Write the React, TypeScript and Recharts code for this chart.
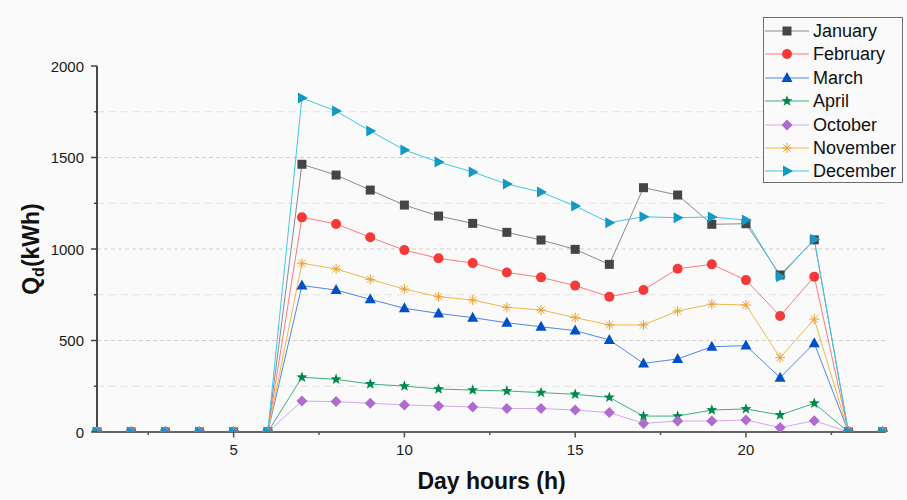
import React from 'react';
import { LineChart, Line, XAxis, YAxis, ReferenceLine, Label } from 'recharts';

const hours = [1, 2, 3, 4, 5, 6, 7, 8, 9, 10, 11, 12, 13, 14, 15, 16, 17, 18, 19, 20, 21, 22, 23, 24];

const january = [0, 0, 0, 0, 0, 0, 1463, 1404, 1322, 1240, 1180, 1140, 1091, 1049, 998, 916, 1335, 1295, 1135, 1138, 858, 1050, 0, 0];
const february = [0, 0, 0, 0, 0, 0, 1173, 1137, 1064, 994, 949, 923, 872, 845, 800, 739, 776, 892, 916, 830, 634, 849, 0, 0];
const march = [0, 0, 0, 0, 0, 0, 800, 776, 725, 676, 648, 625, 597, 575, 554, 503, 375, 399, 466, 472, 297, 485, 0, 0];
const april = [0, 0, 0, 0, 0, 0, 299, 288, 262, 251, 235, 229, 224, 215, 206, 189, 87, 87, 120, 126, 93, 157, 0, 0];
const october = [0, 0, 0, 0, 0, 0, 169, 166, 157, 148, 142, 137, 128, 128, 120, 106, 47, 60, 60, 66, 24, 62, 0, 0];
const november = [0, 0, 0, 0, 0, 0, 922, 891, 834, 781, 739, 721, 681, 667, 625, 585, 585, 661, 699, 694, 406, 617, 0, 0];
const december = [0, 0, 0, 0, 0, 0, 1825, 1754, 1645, 1541, 1475, 1421, 1355, 1311, 1235, 1144, 1176, 1171, 1175, 1158, 849, 1053, 0, 0];

const xTicks = [2.5, 5, 7.5, 10, 12.5, 15, 17.5, 20, 22.5];
const yTicks = [0, 250, 500, 750, 1000, 1250, 1500, 1750, 2000];
const majorGrid = [500, 1000, 1500];
const minorGrid = [250, 750, 1250, 1750];

const series = [
  { key: 'January', values: january, line: '#8a8a8a', fill: '#454545', shape: 'square' },
  { key: 'February', values: february, line: '#ff7a7a', fill: '#f63a3a', shape: 'circle' },
  { key: 'March', values: march, line: '#5088e8', fill: '#0050c8', shape: 'triUp' },
  { key: 'April', values: april, line: '#40b07e', fill: '#00894a', shape: 'star' },
  { key: 'October', values: october, line: '#d4a8f0', fill: '#b06ad0', shape: 'diamond' },
  { key: 'November', values: november, line: '#f0b848', fill: '#e8a030', shape: 'asterisk' },
  { key: 'December', values: december, line: '#40c8e8', fill: '#1499c4', shape: 'triRight' },
];

const rows = hours.map((h, i) => {
  const row: any = { hour: h };
  series.forEach(s => { row[s.key] = s.values[i]; });
  return row;
});

const FONT = "Arial, 'Liberation Sans', sans-serif";

const Marker = ({ shape, cx, cy, fill }: { shape: string; cx: number; cy: number; fill: string }) => {
  switch (shape) {
    case 'square':
      return <rect x={cx - 4.5} y={cy - 4.5} width={9} height={9} fill={fill} />;
    case 'circle':
      return <circle cx={cx} cy={cy} r={5} fill={fill} />;
    case 'triUp':
      return <path d={`M${cx},${cy - 6} L${cx + 5.5},${cy + 4} L${cx - 5.5},${cy + 4} Z`} fill={fill} />;
    case 'triRight':
      return <path d={`M${cx + 6},${cy} L${cx - 4},${cy - 5.5} L${cx - 4},${cy + 5.5} Z`} fill={fill} />;
    case 'diamond':
      return <path d={`M${cx},${cy - 5.5} L${cx + 5.5},${cy} L${cx},${cy + 5.5} L${cx - 5.5},${cy} Z`} fill={fill} />;
    case 'star': {
      const pts: string[] = [];
      for (let k = 0; k < 10; k++) {
        const r = k % 2 === 0 ? 5.8 : 2.4;
        const a = -Math.PI / 2 + (k * Math.PI) / 5;
        pts.push(`${cx + r * Math.cos(a)},${cy + r * Math.sin(a)}`);
      }
      return <polygon points={pts.join(' ')} fill={fill} />;
    }
    case 'asterisk':
      return (
        <g stroke={fill} strokeWidth={1}>
          <line x1={cx - 5} y1={cy} x2={cx + 5} y2={cy} />
          <line x1={cx} y1={cy - 5} x2={cx} y2={cy + 5} />
          <line x1={cx - 3.6} y1={cy - 3.6} x2={cx + 3.6} y2={cy + 3.6} />
          <line x1={cx - 3.6} y1={cy + 3.6} x2={cx + 3.6} y2={cy - 3.6} />
        </g>
      );
    default:
      return null;
  }
};

const XTick = (props: any) => {
  const { x, y, payload } = props;
  const major = payload.value % 5 === 0;
  return (
    <g>
      <line x1={x} y1={y} x2={x} y2={y + (major ? 5.5 : 3)} stroke="#555" strokeWidth={1.5} />
      {major && (
        <text x={x} y={y + 23} textAnchor="middle" fontSize={15} fill="#1a1a1a" fontFamily={FONT}>
          {payload.value}
        </text>
      )}
    </g>
  );
};

const YTick = (props: any) => {
  const { x, y, payload } = props;
  const major = payload.value % 500 === 0;
  return (
    <g>
      <line x1={x} y1={y} x2={x - (major ? 6 : 3)} y2={y} stroke="#444" strokeWidth={1.5} />
      {major && (
        <text x={x - 13} y={y + 5.5} textAnchor="end" fontSize={15} fill="#1a1a1a" fontFamily={FONT}>
          {payload.value}
        </text>
      )}
    </g>
  );
};

const LegendBox = () => (
  <div
    style={{
      position: 'absolute',
      left: 763,
      top: 17,
      width: 138,
      height: 164,
      border: '1px solid #6e6e6e',
      background: '#fafafa',
      fontFamily: FONT,
      fontSize: 18,
      color: '#111',
      boxSizing: 'content-box',
    }}
  >
    {series.map((s, i) => (
      <div key={s.key} style={{ position: 'absolute', left: 1, top: 2 + i * 23.4, height: 22, display: 'flex', alignItems: 'center' }}>
        <svg width={44} height={22} style={{ display: 'block' }}>
          <line x1={0} y1={11} x2={44} y2={11} stroke={s.line} strokeWidth={1} />
          <Marker shape={s.shape} cx={22} cy={11} fill={s.fill} />
        </svg>
        <span style={{ marginLeft: 4, lineHeight: '22px', whiteSpace: 'nowrap' }}>{s.key}</span>
      </div>
    ))}
  </div>
);

export default function App() {
  return (
    <div style={{ position: 'absolute', left: 0, top: 0, width: 907, height: 500, background: '#fafafa' }}>
      <LineChart width={907} height={500} data={rows} margin={{ top: 66, right: 21, bottom: 0, left: 0 }}>
        {minorGrid.map(v => (
          <ReferenceLine key={`mi-${v}`} y={v} stroke="#e2e2e2" strokeDasharray="7 5" strokeWidth={1} />
        ))}
        {majorGrid.map(v => (
          <ReferenceLine key={`ma-${v}`} y={v} stroke="#cfcfcf" strokeDasharray="4 3" strokeWidth={1} />
        ))}
        <XAxis
          type="number"
          dataKey="hour"
          domain={[1, 24.1]}
          ticks={xTicks}
          height={68}
          tickSize={0}
          tickMargin={0}
          tickLine={false}
          tick={<XTick />}
          axisLine={{ stroke: '#666', strokeWidth: 2 }}
          interval={0}
        >
          <Label
            content={(p: any) => (
              <text
                x={p.viewBox.x + p.viewBox.width / 2}
                y={p.viewBox.y + 57}
                textAnchor="middle"
                fontSize={23}
                fontWeight="bold"
                fill="#111"
                fontFamily={FONT}
              >
                Day hours (h)
              </text>
            )}
          />
        </XAxis>
        <YAxis
          type="number"
          domain={[0, 2000]}
          ticks={yTicks}
          width={97}
          tickSize={0}
          tickMargin={0}
          tickLine={false}
          tick={<YTick />}
          axisLine={{ stroke: '#333', strokeWidth: 1.8 }}
          allowDataOverflow
          interval={0}
        >
          <Label
            content={(p: any) => {
              const cx = p.viewBox.x + 39;
              const cy = p.viewBox.y + p.viewBox.height / 2;
              return (
                <text
                  x={cx}
                  y={cy}
                  transform={`rotate(-90 ${cx} ${cy})`}
                  textAnchor="middle"
                  fontSize={23}
                  fontWeight="bold"
                  fill="#111"
                  fontFamily={FONT}
                >
                  Q<tspan fontSize={16} dy={5}>d</tspan>
                  <tspan dy={-5}>(kWh)</tspan>
                </text>
              );
            }}
          />
        </YAxis>
        {series.map(s => (
          <Line
            key={s.key}
            type="linear"
            dataKey={s.key}
            stroke={s.line}
            strokeWidth={1}
            isAnimationActive={false}
            activeDot={false}
            dot={(p: any) => (
              <Marker key={`${s.key}-${p.index}`} shape={s.shape} cx={p.cx} cy={p.cy} fill={s.fill} />
            )}
          />
        ))}
      </LineChart>
      <LegendBox />
    </div>
  );
}
